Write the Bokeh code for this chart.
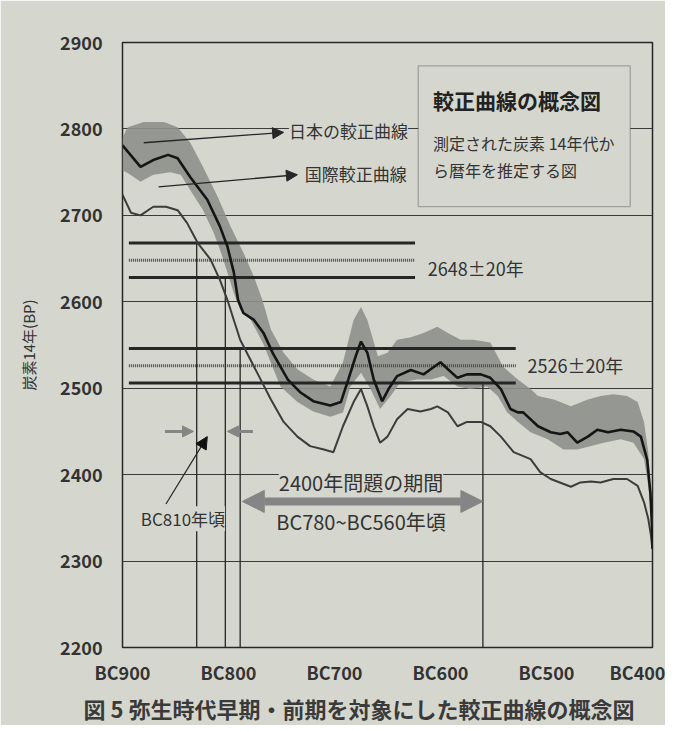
from bokeh.plotting import figure
from bokeh.models import (Range1d, FixedTicker, Label, Arrow, NormalHead, BoxAnnotation, Title)
from bokeh.embed import file_html
from bokeh.resources import INLINE

# ---------------- data (x = years BC, y = radiocarbon age BP) ----------------
jp_x = [900, 883, 871, 857, 848, 836, 820, 808, 801, 795, 791, 786, 776, 767, 758, 744, 732, 720,
        704, 694, 687, 680, 675, 669, 663, 655, 649, 641, 628, 616, 607, 600, 593, 584, 575, 562,
        553, 543, 534, 527, 522, 508, 496, 487, 480, 471, 461, 452, 442, 430, 418, 411, 405, 402,
        400.5, 400]
jp_y = [2781, 2756, 2764, 2770, 2766, 2744, 2718, 2687, 2664, 2634, 2602, 2587, 2579, 2564, 2540,
        2510, 2495, 2485, 2480, 2484, 2510, 2537, 2554, 2541, 2510, 2485, 2499, 2514, 2521, 2516,
        2524, 2530, 2522, 2512, 2516, 2516, 2512, 2499, 2476, 2472, 2472, 2456, 2449, 2447, 2449,
        2437, 2444, 2452, 2449, 2452, 2450, 2444, 2417, 2379, 2341, 2314]

intl_x = [900, 892, 883, 871, 859, 848, 839, 829, 817, 808, 801, 795, 789, 773, 760, 748, 735, 723,
          710, 701, 692, 682, 675, 669, 663, 657, 650, 641, 631, 619, 609, 603, 593, 584, 575, 562,
          553, 543, 531, 515, 506, 496, 477, 468, 458, 449, 437, 424, 414, 408, 404, 401.5, 400.3]
intl_y = [2724, 2703, 2700, 2710, 2710, 2706, 2691, 2668, 2649, 2625, 2602, 2579, 2556, 2518, 2487,
          2461, 2444, 2433, 2429, 2426, 2456, 2484, 2499, 2479, 2456, 2437, 2444, 2464, 2476, 2473,
          2476, 2479, 2472, 2456, 2461, 2461, 2456, 2444, 2426, 2418, 2403, 2395, 2386, 2391, 2392,
          2391, 2395, 2395, 2387, 2368, 2349, 2330, 2316]

band_up_x = [900, 895, 880, 861, 848, 836, 824, 810, 798, 786, 776, 768, 760, 748, 735, 720, 704,
             692, 682, 675, 669, 659, 650, 641, 628, 616, 603, 593, 581, 569, 553, 541, 527, 515,
             508, 493, 477, 461, 449, 437, 424, 414, 408, 404, 400]
band_up_y = [2790, 2802, 2808, 2808, 2802, 2784, 2756, 2721, 2687, 2657, 2629, 2602, 2568, 2541,
             2522, 2510, 2502, 2530, 2579, 2594, 2579, 2537, 2541, 2556, 2559, 2564, 2571, 2564,
             2556, 2556, 2553, 2525, 2510, 2499, 2491, 2487, 2479, 2487, 2491, 2493, 2491, 2484,
             2461, 2426, 2349]
band_lo_x = [900, 895, 883, 871, 855, 845, 836, 824, 814, 808, 801, 795, 789, 779, 767, 751, 735,
             720, 704, 692, 685, 675, 666, 657, 647, 638, 622, 609, 597, 584, 572, 556, 546, 537,
             527, 515, 499, 484, 471, 458, 446, 430, 418, 408, 404, 400]
band_lo_y = [2752, 2749, 2739, 2747, 2750, 2747, 2729, 2706, 2680, 2660, 2634, 2610, 2591, 2579,
             2551, 2502, 2484, 2473, 2467, 2472, 2502, 2518, 2499, 2476, 2491, 2507, 2510, 2510,
             2514, 2502, 2499, 2502, 2491, 2472, 2461, 2449, 2441, 2429, 2429, 2433, 2437, 2441,
             2437, 2418, 2387, 2337]

# measured ages (value ± error) and the span of their horizontal lines
meas_a = [2648, 20]
meas_a_span = [894, 624]
meas_b = [2526, 20]
meas_b_span = [894, 529]

# vertical reading lines: x (BC) and the age where each starts
vline_x = [830, 803, 789, 560]
vline_top = [2668, 2628, 2546, 2506]

x_ticks = [900, 800, 700, 600, 500, 400]
x_labels = ["BC900", "BC800", "BC700", "BC600", "BC500", "BC400"]
y_ticks = [2200, 2300, 2400, 2500, 2600, 2700, 2800, 2900]

BG = "#d5d7cf"
INK = "#262626"
FONT = "Noto Sans CJK JP"

p = figure(width=665, height=725, output_backend="svg", toolbar_location=None,
           x_range=Range1d(900, 400), y_range=Range1d(2200, 2900),
           min_border_left=122, min_border_right=13, min_border_top=42, min_border_bottom=77,
           background_fill_color=BG, border_fill_color=BG)

# axes
p.xaxis.ticker = FixedTicker(ticks=x_ticks)
p.xaxis.major_label_overrides = {t: l for t, l in zip(x_ticks, x_labels)}
p.yaxis.ticker = FixedTicker(ticks=y_ticks)
for ax in (p.xaxis, p.yaxis):
    ax.axis_line_color = None
    ax.major_tick_line_color = None
    ax.minor_tick_line_color = None
    ax.major_label_text_font = FONT
    ax.major_label_text_font_style = "bold"
    ax.major_label_text_font_size = "18px"
    ax.major_label_text_color = "#333333"
p.xaxis.major_label_standoff = 5
p.yaxis.major_label_standoff = 14
p.yaxis.axis_label = "炭素14年(BP)"
p.yaxis.axis_label_text_font = FONT
p.yaxis.axis_label_text_font_style = "normal"
p.yaxis.axis_label_text_font_size = "15px"
p.yaxis.axis_label_text_color = "#333333"
p.yaxis.axis_label_standoff = 18

p.xgrid.visible = False
p.ygrid.ticker = FixedTicker(ticks=y_ticks)
p.ygrid.grid_line_color = "#3a3a3a"
p.ygrid.grid_line_width = 1.2
p.outline_line_color = INK
p.outline_line_width = 1.5

# uncertainty band of the Japanese curve
p.patch(band_up_x + band_lo_x[::-1], band_up_y + band_lo_y[::-1],
        fill_color="#8e908b", line_color=None, fill_alpha=0.9)

# measured-age lines
for (val, err), span in ((meas_a, meas_a_span), (meas_b, meas_b_span)):
    p.line(span, [val + err] * 2, line_color=INK, line_width=3)
    p.line(span, [val] * 2, line_color="#4a4a4a", line_width=3, line_dash="1 1")
    p.line(span, [val - err] * 2, line_color=INK, line_width=3)

# vertical reading lines
p.segment(x0=vline_x, y0=vline_top, x1=vline_x, y1=[2200] * len(vline_x),
          line_color=INK, line_width=1.3)

# curves
p.line(intl_x, intl_y, line_color="#3c3c3c", line_width=2)
p.line(jp_x, jp_y, line_color="#151515", line_width=2.6)

# curve labels with arrows
p.add_layout(Arrow(end=NormalHead(size=11, fill_color=INK, line_color=INK),
                   x_start=880, y_start=2784, x_end=748, y_end=2796,
                   line_color=INK, line_width=1.3))
p.add_layout(Label(x=743, y=2798, text="日本の較正曲線", text_font=FONT, text_font_size="17px",
                   text_color="#333333", text_baseline="middle", background_fill_color=BG))
p.add_layout(Arrow(end=NormalHead(size=11, fill_color=INK, line_color=INK),
                   x_start=866, y_start=2733, x_end=735, y_end=2747,
                   line_color=INK, line_width=1.3))
p.add_layout(Label(x=728, y=2748, text="国際較正曲線", text_font=FONT, text_font_size="17px",
                   text_color="#333333", text_baseline="middle", background_fill_color=BG))

# explanatory box
p.add_layout(BoxAnnotation(left=621, right=421, top=2873, bottom=2710, fill_color=BG,
                           fill_alpha=1, line_color=INK, line_width=1.3))
p.add_layout(Label(x=607, y=2833, text="較正曲線の概念図", text_font=FONT,
                   text_font_size="21px", text_font_style="bold", text_color="#222222",
                   text_baseline="middle"))
p.add_layout(Label(x=607, y=2784, text="測定された炭素 14年代か", text_font=FONT,
                   text_font_size="16px", text_color="#333333", text_baseline="middle"))
p.add_layout(Label(x=607, y=2753, text="ら暦年を推定する図", text_font=FONT,
                   text_font_size="16px", text_color="#333333", text_baseline="middle"))

# measured value labels
p.add_layout(Label(x=612, y=meas_a[0] - 9, text="2648±20年", text_font=FONT,
                   text_font_size="18px", text_color="#333333", text_baseline="middle"))
p.add_layout(Label(x=518, y=meas_b[0] + 1, text="2526±20年", text_font=FONT,
                   text_font_size="18px", text_color="#333333", text_baseline="middle"))

# BC810 markers
grey_head = dict(fill_color="#858585", line_color="#858585")
p.add_layout(Arrow(end=NormalHead(size=11, **grey_head), x_start=860, y_start=2450,
                   x_end=833, y_end=2450, line_color="#858585", line_width=3))
p.add_layout(Arrow(end=NormalHead(size=11, **grey_head), x_start=777, y_start=2450,
                   x_end=801, y_end=2450, line_color="#858585", line_width=3))
p.add_layout(Arrow(end=NormalHead(size=12, fill_color="#111111", line_color="#111111"),
                   x_start=859, y_start=2366, x_end=820, y_end=2444,
                   line_color=INK, line_width=1.2))
p.add_layout(Label(x=843, y=2349, text="BC810年頃", text_font=FONT, text_font_size="17px",
                   text_color="#333333", text_align="center", text_baseline="middle",
                   background_fill_color=BG))

# 2400-year problem period
p.add_layout(Label(x=675, y=2391, text="2400年問題の期間", text_font=FONT,
                   text_font_size="20px", text_color="#333333", text_align="center",
                   text_baseline="middle", background_fill_color=BG))
p.add_layout(Arrow(start=NormalHead(size=22, **grey_head), end=NormalHead(size=22, **grey_head),
                   x_start=787, y_start=2369, x_end=560, y_end=2369,
                   line_color="#858585", line_width=8))
p.add_layout(Label(x=675, y=2346, text="BC780~BC560年頃", text_font=FONT,
                   text_font_size="20px", text_color="#333333", text_align="center",
                   text_baseline="middle", background_fill_color=BG))

# caption below
cap = Title(text="図 5 弥生時代早期・前期を対象にした較正曲線の概念図", align="left", offset=-39,
            text_font=FONT, text_font_size="22px", text_font_style="bold",
            text_color="#3a3a3a", standoff=4)
p.add_layout(cap, "below")

open("out.html", "w").write(file_html(p, INLINE))
